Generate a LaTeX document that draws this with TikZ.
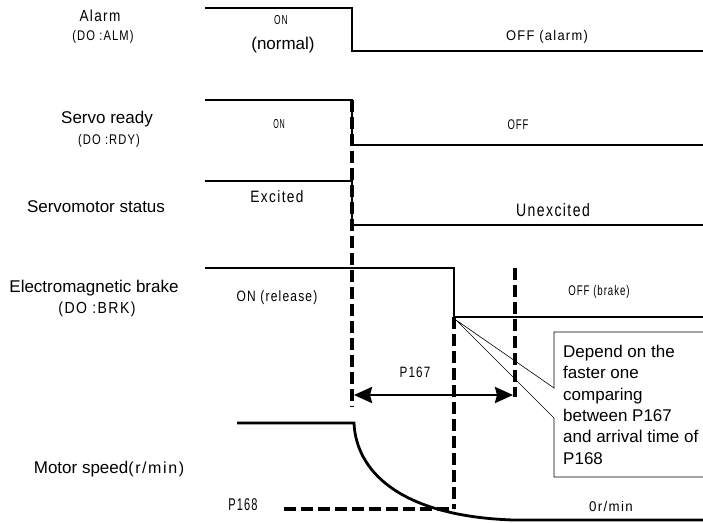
\documentclass[tikz,border=0pt]{standalone}
\usepackage{fontspec}
\usepackage{graphicx}
\setmainfont{Liberation Sans}
\newfontfamily\spfont[LetterSpace=10]{Liberation Sans}
\usetikzlibrary{arrows.meta}
\newcommand{\cnd}[2][0.8]{\scalebox{#1}[1]{\spfont #2}}
\tikzset{
  sig/.style={line width=2.8pt},
  guide/.style={line width=3.2pt, dash pattern=on 12pt off 5pt},
  lbl/.style={font=\fontsize{17}{20}\selectfont, inner sep=0pt},
  tag/.style={inner sep=0pt},
  callout/.style={line width=0.6pt}
}

\begin{document}
\begin{tikzpicture}[x=1pt,y=-1pt]
\useasboundingbox (0,0) rectangle (703,522);

% signal names
\node[tag] (alarm) at (100,16) {\fontsize{16}{18}\selectfont\cnd[0.85]{Alarm}};
\node[tag] (alarmdo) at (103,37) {\fontsize{14}{16}\selectfont\cnd{(DO :ALM)}};
\node[lbl] (ready) at (107,119) {Servo ready};
\node[tag] (readydo) at (109,141) {\fontsize{14}{16}\selectfont\cnd{(DO :RDY)}};
\node[lbl] (status) at (96,207) {Servomotor status};
\node[lbl] (brake) at (94,288) {Electromagnetic brake};
\node[tag] (brakedo) at (97,309) {\fontsize{16}{18}\selectfont\cnd[0.88]{(DO :BRK)}};
\node[lbl] (speed) at (109,469) {Motor speed{\fontsize{16}{18}\selectfont\cnd[1]{(r/min)}}};

% state texts
\node[tag] (almon) at (281,20) {\fontsize{13}{15}\selectfont\cnd[0.65]{ON}};
\node[lbl] (almnormal) at (283,45) {(normal)};
\node[tag] (almoff) at (547,37) {\fontsize{14}{16}\selectfont\cnd[0.92]{OFF (alarm)}};
\node[tag] (rdyon) at (279,124) {\fontsize{13}{15}\selectfont\cnd[0.55]{ON}};
\node[tag] (rdyoff) at (518,125) {\fontsize{14}{16}\selectfont\cnd[0.68]{OFF}};
\node[tag] (excited) at (277,197) {\fontsize{16.5}{18}\selectfont\cnd[0.83]{Excited}};
\node[tag] (unexcited) at (553,210) {\fontsize{18}{20}\selectfont\cnd[0.78]{Unexcited}};
\node[tag] (brkon) at (277,298) {\fontsize{15}{17}\selectfont\cnd{ON (release)}};
\node[tag] (brkoff) at (599,292) {\fontsize{14}{16}\selectfont\cnd[0.69]{OFF (brake)}};
\node[tag] (ptime) at (415,372) {\fontsize{15}{17}\selectfont\cnd[0.78]{P167}};
\node[tag] (pspeed) at (243,505) {\fontsize{17}{19}\selectfont\cnd[0.65]{P168}};
\node[tag] (zero) at (611,506) {\fontsize{14}{16}\selectfont\cnd[0.95]{0r/min}};

% waveforms
\draw[sig] (205,8) -- (352,8) -- (352,51) -- (703,51);
\draw[sig] (205,100) -- (352,100) -- (352,145) -- (703,145);
\draw[sig] (205,181) -- (352,181) -- (352,225) -- (703,225);
\draw[sig] (205,268) -- (454,268) -- (454,317) -- (703,317);
\draw[sig] (237,423) -- (354,423) .. controls (356,470) and (398,516) .. (513,520) -- (703,520);

% timing guides
\draw[guide] (352,100) -- (352,407);
\draw[guide] (454,317) -- (454,509);
\draw[guide] (515,268) -- (515,397);
\draw[guide] (284,509) -- (454,509);

\coordinate (t1) at (354,395);
\coordinate (t2) at (513,395);
\draw[line width=2.8pt, {Stealth[length=18pt,width=16pt,inset=2pt]}-{Stealth[length=18pt,width=16pt,inset=2pt]}] (t1) -- (t2);

% callout
\coordinate (tip) at (456,320);
\draw[callout] (703,332) -- (554,332) -- (554,388) -- (tip) -- (554,418) -- (554,477) -- (703,477);
\node[lbl, anchor=north west, align=left, font=\fontsize{17}{21.3}\selectfont] (note) at (563,345)
  {Depend on the\\faster one\\comparing\\between P167\\and arrival time of\\P168};
\end{tikzpicture}
\end{document}
